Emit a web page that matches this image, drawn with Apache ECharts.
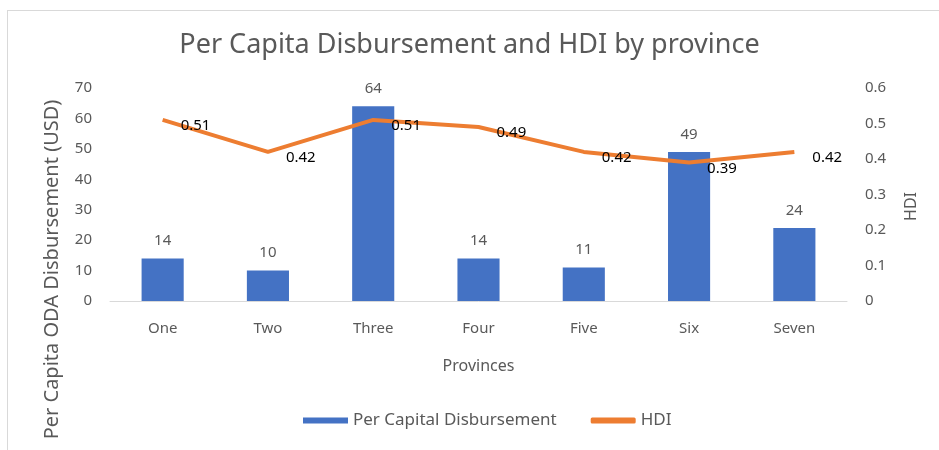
<!DOCTYPE html>
<html>
<head>
<meta charset="utf-8">
<script src="https://cdn.jsdelivr.net/npm/echarts@6/dist/echarts.min.js"></script>
<style>
  html, body { margin: 0; padding: 0; background: #fff; }
  #frame { position: absolute; left: 7px; top: 10px; width: 940px; height: 450px; border: 1px solid #d9d9d9; }
  #chart { position: absolute; left: 0; top: 0; width: 939px; height: 450px; }
</style>
</head>
<body>
<div id="frame"></div>
<div id="chart"></div>
<script>
// categories and values
const provinces = ['One', 'Two', 'Three', 'Four', 'Five', 'Six', 'Seven'];
const disbursement = [14, 10, 64, 14, 11, 49, 24];
const hdi = [0.51, 0.42, 0.51, 0.49, 0.42, 0.39, 0.42];

const font = 'Noto Sans';
const grey = '#595959';

const chart = echarts.init(document.getElementById('chart'), null, { renderer: 'canvas' });
const option = {
  animation: false,
  textStyle: { fontFamily: font },
  title: {
    text: 'Per Capita Disbursement and HDI by province',
    left: 'center', top: 27,
    textStyle: { fontFamily: font, fontSize: 27, fontWeight: 'normal', color: grey }
  },
  legend: {
    bottom: 16, left: 298,
    itemGap: 34,
    textStyle: { color: grey, fontSize: 17 },
    data: [
      { name: 'Per Capital Disbursement', icon: 'rect', itemStyle: { color: '#4472C4' } },
      { name: 'HDI', icon: 'roundRect' }
    ],
    itemWidth: 45, itemHeight: 6
  },
  grid: { left: 110, right: 92, top: 88, bottom: 149 },
  xAxis: {
    type: 'category',
    data: provinces,
    name: 'Provinces',
    nameLocation: 'middle',
    nameGap: 57,
    nameTextStyle: { color: grey, fontSize: 16 },
    axisLine: { lineStyle: { color: '#d9d9d9', width: 1 } },
    axisTick: { show: false },
    axisLabel: { color: grey, fontSize: 15, margin: 20 }
  },
  yAxis: [
    {
      type: 'value', min: 0, max: 70, interval: 10,
      name: 'Per Capita ODA Disbursement (USD)',
      nameLocation: 'middle', nameGap: 48, nameRotate: 90,
      nameTextStyle: { color: grey, fontSize: 20, padding: [0, 150, 0, 0] },
      axisLine: { show: false }, axisTick: { show: false },
      splitLine: { show: false },
      axisLabel: { color: grey, fontSize: 15, margin: 18 }
    },
    {
      type: 'value', min: 0, max: 0.6, interval: 0.1,
      name: 'HDI',
      nameLocation: 'middle', nameGap: 56, nameRotate: 90,
      nameTextStyle: { color: grey, fontSize: 16, padding: [0, 24, 0, 0] },
      axisLine: { show: false }, axisTick: { show: false },
      splitLine: { show: false },
      axisLabel: { color: grey, fontSize: 15, margin: 18 }
    }
  ],
  series: [
    {
      name: 'Per Capital Disbursement',
      type: 'bar',
      data: disbursement,
      barWidth: '40%',
      itemStyle: { color: '#4472C4' },
      label: { show: true, position: 'top', distance: 10, color: grey, fontSize: 15 }
    },
    {
      name: 'HDI',
      type: 'line',
      yAxisIndex: 1,
      data: hdi,
      symbol: 'circle',
      symbolSize: 0,
      lineStyle: { color: '#ED7D31', width: 4 },
      itemStyle: { color: '#ED7D31' },
      label: { show: true, position: 'right', distance: 18, offset: [0, 6], color: '#000', fontSize: 15 }
    }
  ]
};
chart.setOption(option);
</script>
</body>
</html>
